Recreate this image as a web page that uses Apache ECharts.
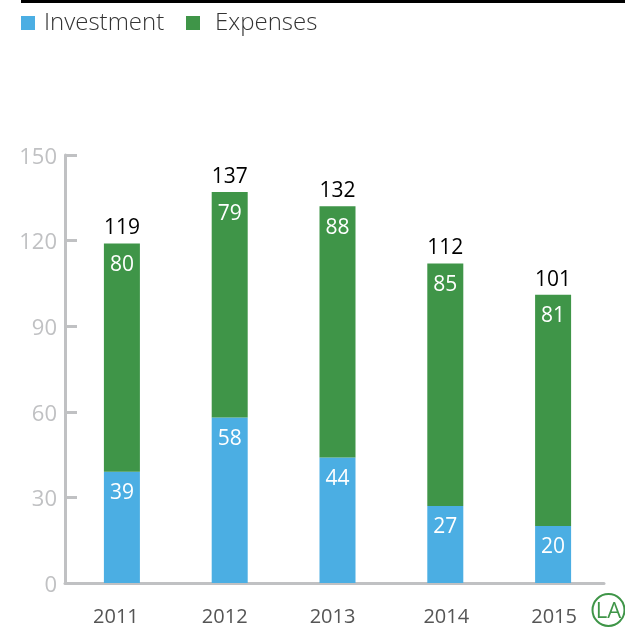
<!DOCTYPE html>
<html>
<head>
<meta charset="utf-8">
<style>
    html, body { margin: 0; padding: 0; background: #fff; }
    #chart { width: 625px; height: 628px; }
</style>
<script src="https://cdn.jsdelivr.net/npm/echarts@6/dist/echarts.min.js"></script>
</head>
<body>
<div id="chart"></div>
<script>
    const years = ['2011', '2012', '2013', '2014', '2015'];
    const investment = [39, 58, 44, 27, 20];
    const expenses = [80, 79, 88, 85, 81];
    const totals = [119, 137, 132, 112, 101];

    const fontName = '"Open Sans", "Noto Sans", sans-serif';
    const axisGrey = '#c0c1c3';
    const blue = '#4baee3';
    const green = '#3f9548';

    let myChart = echarts.init(document.getElementById('chart'));
    let legendText = { fontFamily: fontName, fontSize: 24, fontWeight: 300, color: '#333' };
    let barLabel = {
        show: true,
        position: 'insideTop',
        distance: 11,
        color: '#fff',
        fontFamily: fontName,
        fontSize: 21
    };

    // 年份文字不在刻度正中,用padding微调
    let yearStyle = { color: '#555', fontFamily: fontName, fontSize: 20 };
    let yearRich = {
        y0: Object.assign({ padding: [0, 6, 0, 0] }, yearStyle),
        y1: Object.assign({ padding: [0, 4, 0, 0] }, yearStyle),
        y2: Object.assign({ padding: [0, 4, 0, 0] }, yearStyle),
        y3: Object.assign({ padding: [0, 0, 0, 8] }, yearStyle),
        y4: Object.assign({ padding: [0, 0, 0, 8] }, yearStyle)
    };

    let option = {
        animation: false,
        // 第一个grid画坐标轴,第二个grid画柱子(柱子相对刻度偏右3px)
        grid: [
            { left: 65, right: 21, top: 155, bottom: 45 },
            { left: 68, right: 18, top: 155, bottom: 45 }
        ],
        legend: [
            {
                left: 21, top: 11, padding: 0, itemWidth: 14, itemHeight: 14,
                icon: 'rect', data: ['Investment'],
                textStyle: Object.assign({ padding: [4, 0, 0, 4] }, legendText)
            },
            {
                left: 186, top: 11, padding: 0, itemWidth: 14, itemHeight: 14,
                icon: 'rect', data: ['Expenses'],
                textStyle: Object.assign({ padding: [4, 0, 0, 10] }, legendText)
            }
        ],
        xAxis: [
            {
                type: 'category',
                gridIndex: 0,
                data: years,
                axisLine: { lineStyle: { color: axisGrey, width: 3 } },
                axisTick: { inside: true, length: 12, lineStyle: { color: axisGrey, width: 3 } },
                axisLabel: {
                    interval: 0,
                    color: '#555',
                    fontFamily: fontName,
                    fontSize: 20,
                    margin: 24,
                    formatter: function (value, index) {
                        return '{y' + index + '|' + value + '}';
                    },
                    rich: yearRich
                }
            },
            { type: 'category', gridIndex: 1, data: years, show: false }
        ],
        yAxis: [
            {
                type: 'value',
                gridIndex: 0,
                min: 0,
                max: 150,
                interval: 30,
                splitLine: { show: false },
                axisLine: { show: true, lineStyle: { color: axisGrey, width: 3 } },
                axisTick: { show: true, inside: true, length: 12, lineStyle: { color: axisGrey, width: 3 } },
                axisLabel: {
                    color: axisGrey,
                    fontFamily: fontName,
                    fontSize: 22,
                    margin: 8,
                    verticalAlign: 'top',
                    lineHeight: 5
                }
            },
            { type: 'value', gridIndex: 1, min: 0, max: 150, show: false }
        ],
        series: [
            {
                name: 'Investment',
                type: 'bar',
                xAxisIndex: 1,
                yAxisIndex: 1,
                stack: 'total',
                barWidth: 36,
                itemStyle: { color: blue },
                label: barLabel,
                data: investment
            },
            {
                name: 'Expenses',
                type: 'bar',
                xAxisIndex: 1,
                yAxisIndex: 1,
                stack: 'total',
                barWidth: 36,
                itemStyle: { color: green },
                label: barLabel,
                data: expenses
            },
            {
                // 总数只显示文字
                name: 'Total',
                type: 'line',
                xAxisIndex: 1,
                yAxisIndex: 1,
                data: totals,
                symbol: 'circle',
                symbolSize: 1,
                itemStyle: { color: 'rgba(0,0,0,0)' },
                lineStyle: { width: 0 },
                label: {
                    show: true,
                    position: 'top',
                    distance: 4,
                    color: '#000',
                    fontFamily: fontName,
                    fontSize: 21
                }
            }
        ],
        graphic: [
            { type: 'rect', shape: { x: 21, y: 0, width: 604, height: 3 }, style: { fill: '#000' } },
            { type: 'circle', shape: { cx: 608.5, cy: 610, r: 16 }, style: { fill: '#fff', stroke: green, lineWidth: 2 } },
            {
                type: 'text', x: 608.5, y: 612,
                style: { text: 'LA', fill: green, font: '22px ' + fontName, align: 'center', verticalAlign: 'middle' }
            }
        ]
    };
    myChart.setOption(option);
</script>
</body>
</html>
